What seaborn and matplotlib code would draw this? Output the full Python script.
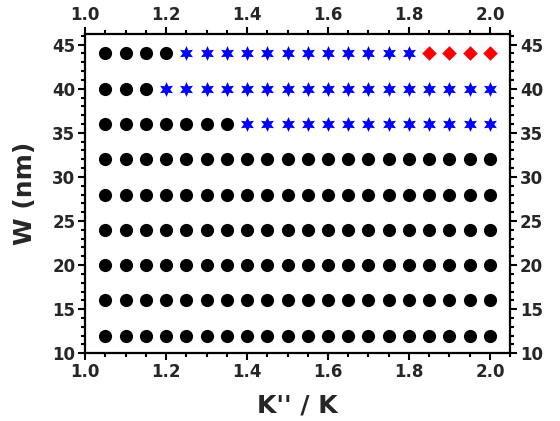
import seaborn as sns
import matplotlib.pyplot as plt
from matplotlib.ticker import MultipleLocator
import pandas as pd

# K''/K grid and channel widths (nm)
k_ratio = [1.05, 1.10, 1.15, 1.20, 1.25, 1.30, 1.35, 1.40, 1.45, 1.50,
           1.55, 1.60, 1.65, 1.70, 1.75, 1.80, 1.85, 1.90, 1.95, 2.00]
widths = [12, 16, 20, 24, 28, 32, 36, 40, 44]

# state of each point along a row: A = circle, B = star, C = diamond
row_states = {
    12: ['A'] * 20,
    16: ['A'] * 20,
    20: ['A'] * 20,
    24: ['A'] * 20,
    28: ['A'] * 20,
    32: ['A'] * 20,
    36: ['A'] * 7 + ['B'] * 13,
    40: ['A'] * 3 + ['B'] * 17,
    44: ['A'] * 4 + ['B'] * 12 + ['C'] * 4,
}

rows = []
for w in widths:
    for k, s in zip(k_ratio, row_states[w]):
        rows.append({'K': k, 'W': w, 'state': s})
df = pd.DataFrame(rows)

sns.set_style("ticks")
plt.rcParams['font.family'] = ['DejaVu Sans']
plt.rcParams['font.weight'] = 'bold'

fig = plt.figure(figsize=(5.6, 4.21), dpi=100)
ax = fig.add_axes([0.152, 0.161, 0.759, 0.758])

palette = {'A': 'black', 'B': 'blue', 'C': 'red'}
markers = {'A': 'o', 'B': (6, 1, 0), 'C': 'D'}
sizes = {'A': 90, 'B': 115, 'C': 55}
for st in ['A', 'B', 'C']:
    sub = df[df['state'] == st]
    sns.scatterplot(data=sub, x='K', y='W', color=palette[st], marker=markers[st],
                    s=sizes[st], linewidth=0, ax=ax, legend=False)

ax.set_xlim(1.0, 2.05)
ax.set_ylim(10, 46.2)
ax.xaxis.set_major_locator(MultipleLocator(0.2))
ax.xaxis.set_minor_locator(MultipleLocator(0.05))
ax.yaxis.set_major_locator(MultipleLocator(5))
ax.yaxis.set_minor_locator(MultipleLocator(1))
ax.set_xticks([1.0, 1.2, 1.4, 1.6, 1.8, 2.0])
ax.tick_params(which='both', direction='out', top=True, right=True,
               labeltop=True, labelright=True, width=1.5, color='black')
ax.tick_params(which='major', length=5, labelsize=12, pad=2)
ax.tick_params(which='minor', length=3)
for lab in ax.get_xticklabels() + ax.get_yticklabels():
    lab.set_fontweight('bold')
for sp in ax.spines.values():
    sp.set_linewidth(1.6)
    sp.set_color('black')

ax.set_xlabel("K'' / K", fontsize=18, fontweight='bold', labelpad=9)
ax.set_ylabel("W (nm)", fontsize=18, fontweight='bold', labelpad=11)

fig.savefig('out.png', dpi=100)
